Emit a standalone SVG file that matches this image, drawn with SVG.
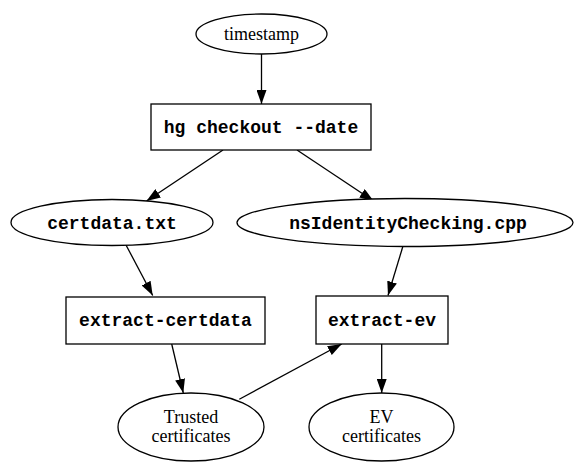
<svg xmlns="http://www.w3.org/2000/svg" width="574" height="463" viewBox="0 0 574 463">
<style>
.n{fill:#fff;stroke:#000;stroke-width:1.3}
.s{font-family:"Liberation Serif","Times New Roman",serif;font-size:18px;text-anchor:middle;fill:#000}
.m{font-family:"Liberation Mono","Courier New",monospace;font-weight:bold;font-size:18px;text-anchor:middle;fill:#000}
.e{stroke:#000;stroke-width:1.3;fill:none;marker-end:url(#a)}
</style>
<defs>
<marker id="a" viewBox="0 0 14 10" markerWidth="14" markerHeight="10" refX="14" refY="5" orient="auto" markerUnits="userSpaceOnUse">
<path d="M0,0 L14,5 L0,10 z" fill="#000"/>
</marker>
</defs>
<rect width="574" height="463" fill="#fff"/>
<g id="edges">
<line class="e" x1="261.5" y1="54" x2="261.5" y2="104"/>
<line class="e" x1="223" y1="150" x2="146.5" y2="201"/>
<line class="e" x1="297" y1="150" x2="373.6" y2="201"/>
<line class="e" x1="126" y1="245" x2="152.7" y2="295.5"/>
<line class="e" x1="403" y1="246" x2="388" y2="295.5"/>
<line class="e" x1="171.7" y1="344" x2="183.3" y2="393"/>
<line class="e" x1="239.3" y1="399.3" x2="341.7" y2="344"/>
<line class="e" x1="381.7" y1="344" x2="381.7" y2="393"/>
</g>
<g id="timestamp">
<ellipse class="n" cx="261.5" cy="34" rx="65.5" ry="20"/>
<text class="s" x="261.5" y="40">timestamp</text>
</g>
<g id="hg_checkout">
<rect class="n" x="151" y="104" width="220" height="46"/>
<text class="m" x="261" y="133">hg checkout --date</text>
</g>
<g id="certdata">
<ellipse class="n" cx="112" cy="222.5" rx="101" ry="23"/>
<text class="m" x="112" y="229">certdata.txt</text>
</g>
<g id="nsIdentityChecking">
<ellipse class="n" cx="405" cy="222.5" rx="168" ry="24"/>
<text class="m" x="408" y="229">nsIdentityChecking.cpp</text>
</g>
<g id="extract_certdata">
<rect class="n" x="66" y="297" width="199" height="47"/>
<text class="m" x="165.5" y="326">extract-certdata</text>
</g>
<g id="extract_ev">
<rect class="n" x="316" y="296" width="132" height="48"/>
<text class="m" x="382" y="326">extract-ev</text>
</g>
<g id="trusted">
<ellipse class="n" cx="191" cy="427" rx="73" ry="34"/>
<text class="s" x="191" y="423">Trusted</text>
<text class="s" x="191" y="442">certificates</text>
</g>
<g id="ev_certs">
<ellipse class="n" cx="381.5" cy="427" rx="72.5" ry="34"/>
<text class="s" x="381.5" y="423">EV</text>
<text class="s" x="381.5" y="442">certificates</text>
</g>
</svg>
